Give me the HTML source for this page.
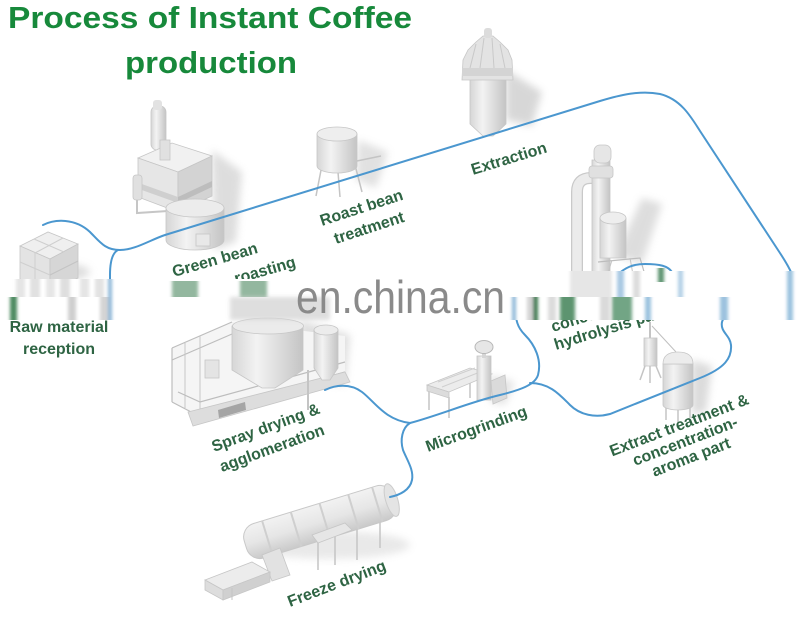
<!DOCTYPE html>
<html><head><meta charset="utf-8">
<style>
html,body{margin:0;padding:0;background:#fff;}
svg{display:block;}
.lab{font-family:"Liberation Sans",Arial,sans-serif;font-weight:bold;font-size:16px;fill:#2e6443;}
.ttl{font-family:"Liberation Sans",Arial,sans-serif;font-weight:bold;font-size:31px;fill:#17893b;}
.wm{font-family:"Liberation Sans",Arial,sans-serif;font-size:46px;fill:#8a8a8a;}
.ln{fill:none;stroke:#4b97cf;stroke-width:2;stroke-linecap:round;}
.eq{stroke:#c6c6c6;stroke-width:0.8;}
.rl{fill:none;stroke:#bdbdbd;stroke-width:1.2;}
</style></head><body>
<svg width="800" height="623" viewBox="0 0 800 623" xmlns="http://www.w3.org/2000/svg">
<defs>
<filter id="b4" x="-50%" y="-50%" width="200%" height="200%"><feGaussianBlur stdDeviation="4"/></filter>
<filter id="b2" x="-50%" y="-50%" width="200%" height="200%"><feGaussianBlur stdDeviation="2"/></filter>
<filter id="bh" x="-50%" y="-5%" width="200%" height="110%"><feGaussianBlur stdDeviation="1.5 0.3"/></filter>
<linearGradient id="cyl" x1="0" x2="1" y1="0" y2="0">
<stop offset="0" stop-color="#d6d6d6"/><stop offset="0.35" stop-color="#f3f3f3"/><stop offset="1" stop-color="#c4c4c4"/>
</linearGradient>
<linearGradient id="cylv" x1="0" x2="0" y1="0" y2="1">
<stop offset="0" stop-color="#f2f2f2"/><stop offset="0.5" stop-color="#e6e6e6"/><stop offset="1" stop-color="#c9c9c9"/>
</linearGradient>
</defs>

<!-- Title -->
<text class="ttl" x="8" y="28" textLength="404" lengthAdjust="spacingAndGlyphs">Process of Instant Coffee</text>
<text class="ttl" x="125" y="73" textLength="172" lengthAdjust="spacingAndGlyphs">production</text>

<!-- Raw material bales -->
<ellipse cx="58" cy="272" rx="32" ry="9" fill="#c8c8c8" opacity=".6" filter="url(#b4)"/>
<polygon class="eq" points="20,246 48,232 78,244 50,259" fill="#efefef"/>
<polygon class="eq" points="20,246 50,259 50,292 20,279" fill="#e3e3e3"/>
<polygon class="eq" points="50,259 78,244 78,278 50,292" fill="#d6d6d6"/>
<line x1="34" y1="239" x2="64" y2="252" stroke="#cfcfcf"/>
<line x1="35" y1="253" x2="63" y2="238" stroke="#cfcfcf"/>
<line x1="20" y1="262" x2="50" y2="275" stroke="#cfcfcf"/>
<line x1="35" y1="253" x2="35" y2="286" stroke="#cfcfcf"/>
<line x1="50" y1="275" x2="78" y2="261" stroke="#c4c4c4"/>

<!-- Green bean roaster -->
<polygon points="212,150 242,172 236,242 214,250" fill="#b5b5b5" opacity=".45" filter="url(#b4)"/>
<rect class="eq" x="151" y="106" width="15" height="44" rx="6" fill="url(#cyl)"/>
<rect x="153" y="100" width="9" height="10" rx="3" fill="#e2e2e2"/>
<polygon class="eq" points="138,158 172,143 212,156 178,172" fill="#f1f1f1"/>
<polygon class="eq" points="138,158 178,172 178,212 138,197" fill="#e6e6e6"/>
<polygon class="eq" points="178,172 212,156 212,196 178,212" fill="#d3d3d3"/>
<polygon points="139,183 178,197 178,203 139,189" fill="#cfcfcf"/>
<polygon points="178,197 212,181 212,187 178,203" fill="#bdbdbd"/>
<rect class="eq" x="160" y="140" width="10" height="20" fill="#e0e0e0"/>
<rect class="eq" x="133" y="175" width="9" height="25" rx="3" fill="#e0e0e0"/>
<polyline points="137,200 137,213 168,211" fill="none" stroke="#c6c6c6" stroke-width="2"/>
<path class="eq" d="M166,208 L166,240 A29,10 0 0 0 224,240 L224,208 Z" fill="url(#cyl)"/>
<ellipse class="eq" cx="195" cy="208" rx="29" ry="9" fill="#ececec"/>
<rect class="eq" x="196" y="234" width="14" height="12" fill="#e8e8e8"/>

<!-- Roast bean silo -->
<polygon points="358,140 388,152 376,188 356,180" fill="#b5b5b5" opacity=".4" filter="url(#b4)"/>
<line x1="322" y1="165" x2="316" y2="196" stroke="#c4c4c4" stroke-width="1.5"/>
<line x1="355" y1="165" x2="362" y2="192" stroke="#c4c4c4" stroke-width="1.5"/>
<line x1="338" y1="172" x2="340" y2="197" stroke="#c4c4c4" stroke-width="1.5"/>
<line x1="352" y1="162" x2="381" y2="156" stroke="#c4c4c4" stroke-width="1.5"/>
<path class="eq" d="M317,134 L317,166 A20,7 0 0 0 357,166 L357,134 Z" fill="url(#cyl)"/>
<ellipse class="eq" cx="337" cy="134" rx="20" ry="7" fill="#eeeeee"/>

<!-- Extraction vessel -->
<polygon points="506,70 542,92 532,126 506,120" fill="#a8a8a8" opacity=".45" filter="url(#b4)"/>
<path class="eq" d="M470,78 L470,124 L483,136 L493,136 L506,124 L506,78 Z" fill="url(#cyl)"/>
<path class="eq" d="M462,80 L463,60 L468,50 L476,42 L483,36 L493,36 L500,42 L508,50 L512,60 L513,80 Z" fill="#e3e3e3"/>
<rect x="462" y="68" width="51" height="8" fill="#d4d4d4"/>
<line x1="470" y1="68" x2="476" y2="44" stroke="#c9c9c9"/>
<line x1="480" y1="68" x2="484" y2="38" stroke="#c9c9c9"/>
<line x1="494" y1="68" x2="492" y2="38" stroke="#c9c9c9"/>
<line x1="505" y1="68" x2="500" y2="44" stroke="#c9c9c9"/>
<rect x="484" y="28" width="8" height="10" rx="3" fill="#dcdcdc"/>

<!-- Hydrolysis tower -->
<polygon points="616,255 642,198 662,204 642,264" fill="#b5b5b5" opacity=".45" filter="url(#b4)"/>
<path d="M577,285 L577,192 Q577,178 591,178 L598,178" fill="none" stroke="#c9c9c9" stroke-width="12"/>
<path d="M577,285 L577,192 Q577,178 591,178 L598,178" fill="none" stroke="#ebebeb" stroke-width="9.5"/>
<rect x="592" y="160" width="18" height="130" fill="url(#cyl)" class="eq"/>
<rect class="eq" x="594" y="145" width="17" height="18" rx="6" fill="#e6e6e6"/>
<rect class="eq" x="589" y="166" width="24" height="12" rx="3" fill="#e0e0e0"/>
<path class="eq" d="M600,218 L600,258 L626,258 L626,218 Z" fill="url(#cyl)"/>
<ellipse class="eq" cx="613" cy="218" rx="13" ry="6" fill="#eeeeee"/>
<polyline class="rl" points="598,262 640,258 645,275"/>
<line x1="612" y1="260" x2="606" y2="280" stroke="#c4c4c4"/>
<line x1="630" y1="258" x2="634" y2="280" stroke="#c4c4c4"/>

<!-- Spray drying -->
<polygon points="300,320 350,335 345,385 300,380" fill="#b8b8b8" opacity=".45" filter="url(#b4)"/>
<polygon points="172,348 232,322 345,336 345,372 195,414 172,402" fill="#f5f5f5"/>
<polyline class="rl" points="172,348 232,322"/>
<polyline class="rl" points="172,360 232,334"/>
<line x1="172" y1="348" x2="172" y2="402" stroke="#bdbdbd" stroke-width="1.2"/>
<line x1="185" y1="343" x2="185" y2="408" stroke="#c6c6c6"/>
<line x1="200" y1="336" x2="200" y2="412" stroke="#c6c6c6"/>
<polyline class="rl" points="172,402 195,414 345,372"/>
<polyline class="rl" points="178,392 200,402 345,362"/>
<polygon class="eq" points="188,412 345,372 350,382 193,426" fill="#dddddd"/>
<polygon points="218,410 245,402 246,410 219,418" fill="#a5a5a5"/>
<path class="eq" d="M232,326 L232,370 L262,388 L275,388 L303,370 L303,326 Z" fill="url(#cyl)"/>
<ellipse class="eq" cx="268" cy="326" rx="35.5" ry="8" fill="#ebebeb"/>
<path class="eq" d="M314,330 L314,368 L322,380 L330,380 L338,368 L338,330 Z" fill="url(#cyl)"/>
<ellipse class="eq" cx="326" cy="330" rx="12" ry="5" fill="#ececec"/>
<line x1="308" y1="370" x2="308" y2="410" stroke="#c4c4c4" stroke-width="2"/>
<rect x="205" y="360" width="14" height="18" fill="#e4e4e4" class="eq"/>

<!-- Microgrinding -->
<polygon points="490,375 515,382 505,405 490,402" fill="#bbb" opacity=".4" filter="url(#b4)"/>
<line x1="429" y1="390" x2="429" y2="410" stroke="#c4c4c4" stroke-width="1.5"/>
<line x1="449" y1="397" x2="449" y2="418" stroke="#c4c4c4" stroke-width="1.5"/>
<line x1="470" y1="372" x2="470" y2="398" stroke="#c4c4c4" stroke-width="1.5"/>
<polygon class="eq" points="427,385 470,368 492,374 449,392" fill="#ececec"/>
<polygon class="eq" points="427,385 449,392 449,398 427,391" fill="#dcdcdc"/>
<line x1="438" y1="382" x2="475" y2="368" stroke="#cfcfcf"/>
<line x1="442" y1="387" x2="480" y2="372" stroke="#cfcfcf"/>
<rect class="eq" x="477" y="356" width="14" height="44" fill="url(#cyl)"/>
<rect x="482" y="348" width="4" height="10" fill="#d6d6d6"/>
<ellipse cx="484" cy="347" rx="9" ry="6.5" fill="#e6e6e6" stroke="#b8b8b8"/>
<polygon class="eq" points="491,381 505,375 507,398 493,404" fill="#dadada"/>

<!-- Extract treatment vessel -->
<polygon points="692,360 712,366 706,412 692,414" fill="#b0b0b0" opacity=".45" filter="url(#b4)"/>
<line x1="652" y1="326" x2="676" y2="352" stroke="#c0c0c0"/>
<line x1="650" y1="322" x2="650" y2="340" stroke="#c4c4c4" stroke-width="2"/>
<rect class="eq" x="644" y="338" width="13" height="28" fill="url(#cyl)"/>
<line x1="645" y1="366" x2="640" y2="380" stroke="#c4c4c4" stroke-width="1.5"/>
<line x1="656" y1="366" x2="661" y2="378" stroke="#c4c4c4" stroke-width="1.5"/>
<line x1="650" y1="366" x2="650" y2="383" stroke="#c4c4c4" stroke-width="1.5"/>
<line x1="666" y1="406" x2="666" y2="420" stroke="#c4c4c4" stroke-width="1.5"/>
<line x1="678" y1="408" x2="678" y2="423" stroke="#c4c4c4" stroke-width="1.5"/>
<line x1="690" y1="406" x2="690" y2="418" stroke="#c4c4c4" stroke-width="1.5"/>
<path class="eq" d="M663,364 L663,405 A15,5 0 0 0 693,405 L693,364 Z" fill="url(#cyl)"/>
<path class="eq" d="M663,364 Q663,352 678,352 Q693,352 693,364 Z" fill="#ececec"/>

<!-- Freeze drying -->
<ellipse cx="330" cy="545" rx="80" ry="14" fill="#cfcfcf" opacity=".45" filter="url(#b4)"/>
<line x1="318" y1="536" x2="318" y2="570" stroke="#c4c4c4" stroke-width="1.5"/>
<line x1="357" y1="524" x2="357" y2="560" stroke="#c4c4c4" stroke-width="1.5"/>
<line x1="380" y1="518" x2="380" y2="548" stroke="#c4c4c4" stroke-width="1.5"/>
<line x1="335" y1="530" x2="335" y2="565" stroke="#c4c4c4" stroke-width="1.5"/>
<g transform="translate(320,522) rotate(-17)">
<rect x="-78" y="-18" width="156" height="36" rx="14" fill="url(#cylv)" stroke="#c8c8c8"/>
<line x1="-55" y1="-18" x2="-55" y2="18" stroke="#cfcfcf" stroke-width="2"/>
<line x1="-25" y1="-18" x2="-25" y2="18" stroke="#cfcfcf" stroke-width="2"/>
<line x1="5" y1="-18" x2="5" y2="18" stroke="#cfcfcf" stroke-width="2"/>
<line x1="35" y1="-18" x2="35" y2="18" stroke="#cfcfcf" stroke-width="2"/>
<line x1="60" y1="-18" x2="60" y2="18" stroke="#cfcfcf" stroke-width="2"/>
<ellipse cx="75" cy="0" rx="6" ry="17" fill="#e4e4e4" stroke="#cccccc"/>
</g>
<polygon class="eq" points="312,535 345,523 352,530 318,543" fill="#e6e6e6"/>
<polygon class="eq" points="262,555 280,548 290,575 272,581" fill="#e2e2e2"/>
<polygon class="eq" points="205,580 252,562 270,572 223,590" fill="#ececec"/>
<polygon class="eq" points="205,580 223,590 223,600 205,590" fill="#dddddd"/>
<polygon class="eq" points="223,590 270,572 270,582 223,600" fill="#d0d0d0"/>
<line x1="232" y1="588" x2="232" y2="600" stroke="#c4c4c4"/>

<!-- Blue connector lines -->
<path class="ln" d="M43,225 C55,219 75,218 90,232 C100,242 105,250 120,250 C135,250 150,240 165,235 L600,101 C620,95 640,90 660,94 C680,99 690,115 700,131 L778,250 C790,268 796,278 797,300"/>
<path class="ln" d="M118,250 C112,253 110,262 110,275 L110,300"/>
<path class="ln" d="M617,275 C625,268 632,264 645,264 C660,264 668,266 672,272 C675,278 674,285 672,297"/>
<path class="ln" d="M325,390 C335,385 350,383 362,392 C375,402 385,420 410,423"/>
<path class="ln" d="M410,423 C440,415 470,402 500,395 C520,390 535,385 538,375 C542,360 535,345 525,335 C518,328 515,322 515,300"/>
<path class="ln" d="M530,383 C550,383 560,395 570,405 C580,415 595,418 610,414 L700,378 C725,368 732,358 731,345 C730,335 720,332 722,322 C724,315 730,312 731,300"/>
<path class="ln" d="M410,423 C402,428 400,440 403,450 C407,460 414,470 412,480 C410,490 400,495 390,497"/>

<!-- Labels -->
<text class="lab" transform="translate(174,277) rotate(-16)">Green bean</text>
<text class="lab" transform="translate(236,284) rotate(-16)">roasting</text>
<text class="lab" transform="translate(322,226) rotate(-18)">Roast bean</text>
<text class="lab" transform="translate(336,244) rotate(-18)">treatment</text>
<text class="lab" transform="translate(473,175) rotate(-17)">Extraction</text>
<text class="lab" x="59" y="332" text-anchor="middle">Raw material</text>
<text class="lab" x="59" y="354" text-anchor="middle">reception</text>
<text class="lab" transform="translate(553,332) rotate(-17)">concentration &amp;</text>
<text class="lab" transform="translate(556,350) rotate(-17)">hydrolysis part</text>
<text class="lab" transform="translate(214,452) rotate(-20)">Spray drying &amp;</text>
<text class="lab" transform="translate(222,472) rotate(-20)">agglomeration</text>
<text class="lab" transform="translate(428,452) rotate(-20)">Microgrinding</text>
<text class="lab" text-anchor="middle" transform="translate(681,430) rotate(-21)">Extract treatment &amp;</text>
<text class="lab" text-anchor="middle" transform="translate(687,446) rotate(-21)">concentration-</text>
<text class="lab" text-anchor="middle" transform="translate(693,462) rotate(-21)">aroma part</text>
<text class="lab" transform="translate(290,607) rotate(-21)">Freeze drying</text>

<!-- Watermark band -->
<rect x="0" y="279" width="290" height="18" fill="#fff"/>
<rect x="0" y="297" width="232" height="23" fill="#fff"/>
<rect x="566" y="271" width="234" height="26" fill="#fff"/>
<rect x="506" y="297" width="294" height="23" fill="#fff"/>
<g filter="url(#bh)">
<rect x="16" y="279" width="9" height="18" fill="#dadada" opacity=".7"/>
<rect x="30" y="279" width="10" height="18" fill="#d4d4d4" opacity=".7"/>
<rect x="46" y="279" width="9" height="18" fill="#dcdcdc" opacity=".7"/>
<rect x="60" y="279" width="10" height="18" fill="#d0d0d0" opacity=".7"/>
<rect x="80" y="279" width="9" height="18" fill="#dadada" opacity=".7"/>
<rect x="95" y="279" width="9" height="18" fill="#d6d6d6" opacity=".7"/>
<rect x="108" y="279" width="4" height="41" fill="#8fb8d8"/>
<rect x="172" y="281" width="26" height="16" fill="#6f9f7e" opacity=".75"/>
<rect x="240" y="281" width="27" height="16" fill="#6f9f7e" opacity=".75"/>
<rect x="10" y="297" width="7" height="23" fill="#4d8a60"/>
<rect x="68" y="297" width="8" height="23" fill="#cfcfcf"/>
<rect x="100" y="297" width="8" height="23" fill="#d4d4d4"/>
<rect x="570" y="271" width="42" height="26" fill="#e0e0e0" opacity=".8"/>
<rect x="617" y="271" width="7" height="26" fill="#a9c9e2"/>
<rect x="633" y="271" width="7" height="26" fill="#dddddd"/>
<rect x="658" y="268" width="6" height="14" fill="#5f9572"/>
<rect x="678" y="271" width="5" height="26" fill="#b4d0e6"/>
<rect x="787" y="271" width="6" height="49" fill="#9cc2df"/>
<rect x="512" y="297" width="4" height="23" fill="#8fb8d8"/>
<rect x="527" y="297" width="6" height="23" fill="#d4d4d4"/>
<rect x="533" y="297" width="5" height="23" fill="#3f7d52"/>
<rect x="548" y="297" width="8" height="23" fill="#dcdcdc"/>
<rect x="560" y="297" width="15" height="23" fill="#5d9470"/>
<rect x="600" y="297" width="10" height="23" fill="#dadada"/>
<rect x="612" y="297" width="20" height="23" fill="#5a9570" opacity=".85"/>
<rect x="645" y="297" width="6" height="23" fill="#9cc2df"/>
<rect x="720" y="297" width="8" height="23" fill="#9cc2df"/>
</g>
<rect x="230" y="297" width="100" height="23" fill="#d6d6d6" opacity=".8" filter="url(#b2)"/>
<text class="wm" x="296" y="313" textLength="209" lengthAdjust="spacingAndGlyphs">en.china.cn</text>
</svg>
</body></html>
